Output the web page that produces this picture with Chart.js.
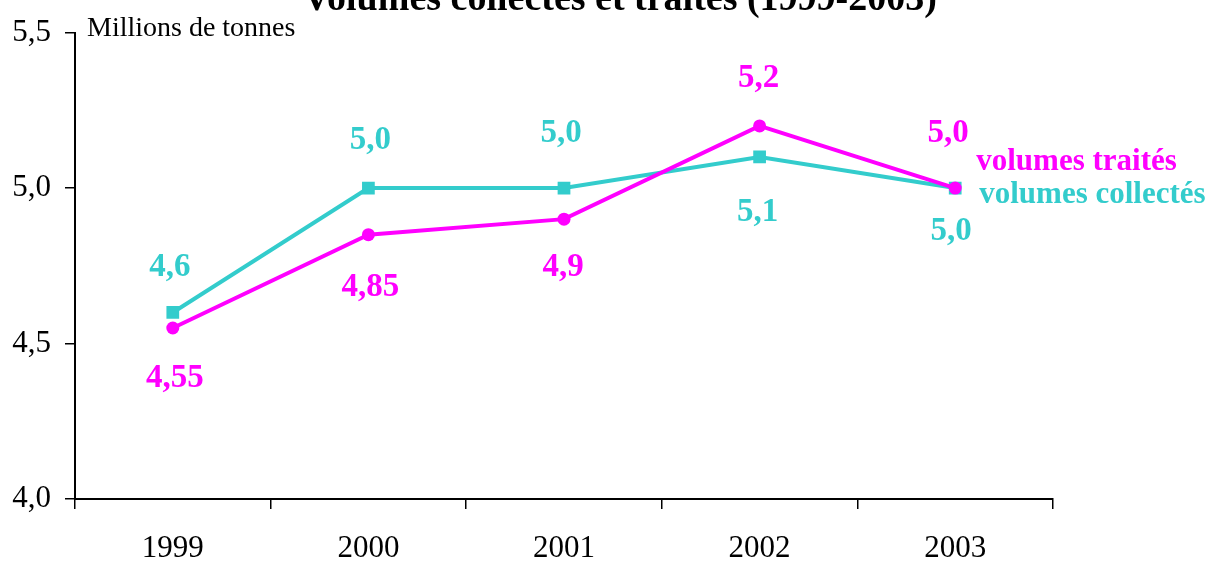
<!DOCTYPE html>
<html>
<head>
<meta charset="utf-8">
<script src="https://cdn.jsdelivr.net/npm/chart.js@4/dist/chart.umd.min.js"></script>
<style>
  html, body { margin: 0; padding: 0; background: #fff; }
  #wrap { width: 1212px; height: 561px; position: relative; }
</style>
</head>
<body>
<div id="wrap"><canvas id="chart" width="1212" height="561"></canvas></div>
<script>
  // données
  var YEARS = ['1999', '2000', '2001', '2002', '2003'];
  var TRAITES = [4.55, 4.85, 4.9, 5.2, 5.0];
  var COLLECTES = [4.6, 5.0, 5.0, 5.1, 5.0];
  var TRAITES_TXT = ['4,55', '4,85', '4,9', '5,2', '5,0'];
  var COLLECTES_TXT = ['4,6', '5,0', '5,0', '5,1', '5,0'];
  var Y_MIN = 4.0, Y_MAX = 5.5, Y_STEP = 0.5;

  var MAGENTA = '#ff00ff';
  var TEAL = '#33cccc';
  var SERIF = '"Liberation Serif", "Times New Roman", serif';

  /* étiquettes de valeur + nom de série en bout de courbe */
  var valueLabels = {
    id: 'valueLabels',
    afterDatasetsDraw: function (chart) {
      var ctx = chart.ctx;
      chart.data.datasets.forEach(function (ds, i) {
        var meta = chart.getDatasetMeta(i);
        ctx.save();
        ctx.fillStyle = ds.borderColor;
        ctx.textBaseline = 'middle';
        ctx.font = 'bold 33px ' + SERIF;
        ctx.textAlign = 'center';
        meta.data.forEach(function (pt, j) {
          ctx.fillText(ds.valueText[j], pt.x + ds.labelDx[j], pt.y + ds.labelDy[j]);
        });
        var last = meta.data[meta.data.length - 1];
        ctx.font = 'bold 31px ' + SERIF;
        ctx.textAlign = 'left';
        ctx.fillText(ds.label, last.x + ds.nameDx, last.y + ds.nameDy);
        ctx.restore();
      });
    }
  };

  var headings = {
    id: 'headings',
    afterDraw: function (chart) {
      var ctx = chart.ctx;
      ctx.save();
      ctx.fillStyle = '#000';
      ctx.textBaseline = 'alphabetic';
      ctx.textAlign = 'center';
      ctx.font = 'bold 38px ' + SERIF;
      ctx.fillText('Volumes collectés et traités (1999-2003)', 620, 10);
      ctx.textAlign = 'left';
      ctx.font = '28px ' + SERIF;
      ctx.fillText('Millions de tonnes', 87, 36);
      ctx.restore();
    }
  };

  new Chart(document.getElementById('chart'), {
    type: 'line',
    data: {
      labels: YEARS,
      datasets: [
        {
          label: 'volumes traités',
          data: TRAITES,
          valueText: TRAITES_TXT,
          labelDx: [2, 2, -1, -1, -7],
          labelDy: [50, 53, 48, -47, -55],
          nameDx: 21, nameDy: -26,
          borderColor: MAGENTA,
          backgroundColor: MAGENTA,
          borderWidth: 4,
          pointStyle: 'circle',
          pointRadius: 6.5,
          pointBorderWidth: 0,
          tension: 0
        },
        {
          label: 'volumes collectés',
          data: COLLECTES,
          valueText: COLLECTES_TXT,
          labelDx: [-3, 2, -3, -2, -4],
          labelDy: [-45, -48, -55, 55, 43],
          nameDx: 24, nameDy: 7,
          borderColor: TEAL,
          backgroundColor: TEAL,
          borderWidth: 4,
          pointStyle: 'rect',
          pointRadius: 9,
          pointBorderWidth: 0,
          tension: 0
        }
      ]
    },
    options: {
      responsive: false,
      animation: false,
      layout: { padding: { left: 0, top: 30, right: 159, bottom: 0 } },
      plugins: {
        legend: { display: false },
        tooltip: { enabled: false }
      },
      scales: {
        x: {
          type: 'category',
          offset: true,
          grid: { offset: true, drawOnChartArea: false, color: '#000', lineWidth: 1.5, tickLength: 10 },
          border: { color: '#000', width: 2 },
          ticks: { color: '#000', font: { family: SERIF, size: 31 }, padding: 21, maxRotation: 0 },
          afterFit: function (s) { s.height = 62; }
        },
        y: {
          min: Y_MIN,
          max: Y_MAX,
          grid: { drawOnChartArea: false, color: '#000', lineWidth: 1.5, tickLength: 10 },
          border: { color: '#000', width: 2 },
          ticks: {
            stepSize: Y_STEP,
            color: '#000',
            font: { family: SERIF, size: 31 },
            padding: 14,
            callback: function (v) { return v.toFixed(1).replace('.', ','); }
          },
          afterFit: function (s) { s.width = 75; }
        }
      }
    },
    plugins: [valueLabels, headings]
  });
</script>
</body>
</html>
